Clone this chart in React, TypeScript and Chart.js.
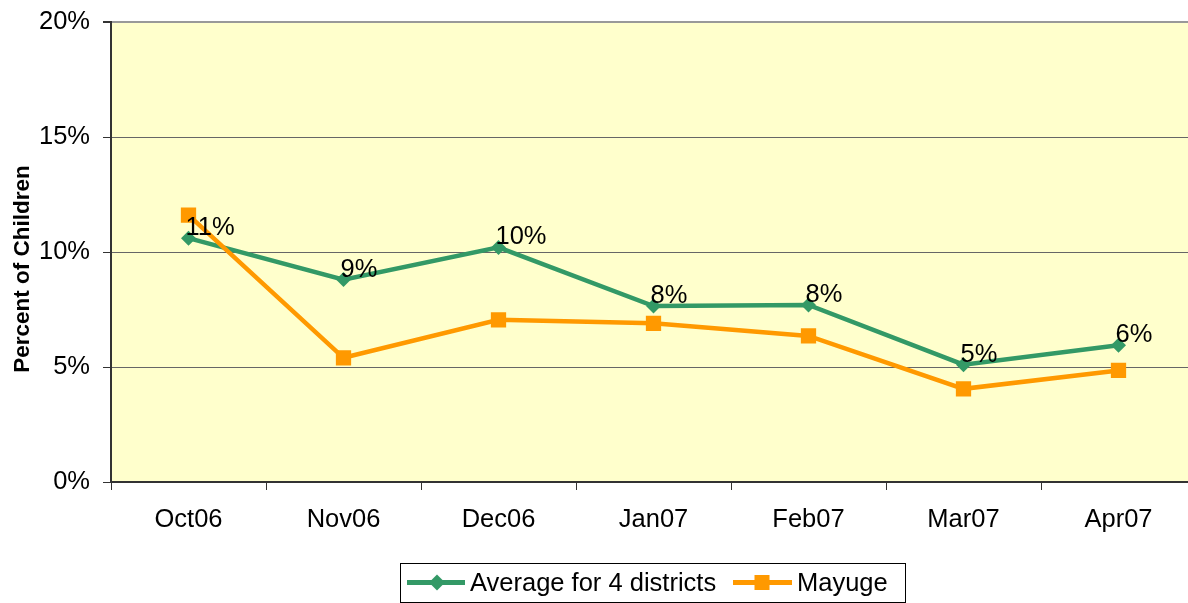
import React, { useEffect, useRef } from 'react';
import { Chart, registerables } from 'chart.js';

Chart.register(...registerables);

const categories = ['Oct06', 'Nov06', 'Dec06', 'Jan07', 'Feb07', 'Mar07', 'Apr07'];
const averageValues = [10.6, 8.8, 10.2, 7.65, 7.7, 5.1, 5.95];
const mayugeValues = [11.6, 5.4, 7.05, 6.9, 6.35, 4.05, 4.85];
const seriesNames = ['Average for 4 districts', 'Mayuge'];
const yAxisTitle = 'Percent of Children';

const GREEN = '#339966';
const ORANGE = '#FF9900';
const FONT = '"Liberation Sans", Arial, sans-serif';

const bgPlugin = {
  id: 'plotBg',
  beforeDraw(chart: any) {
    const { ctx, chartArea } = chart;
    ctx.save();
    ctx.fillStyle = '#FFFFCC';
    ctx.fillRect(chartArea.left, chartArea.top, chartArea.right - chartArea.left, chartArea.bottom - chartArea.top);
    ctx.restore();
  },
};

const labelPlugin = {
  id: 'pointLabels',
  afterDatasetsDraw(chart: any) {
    const { ctx } = chart;
    const meta = chart.getDatasetMeta(0);
    ctx.save();
    ctx.font = `25.5px ${FONT}`;
    ctx.fillStyle = '#000';
    ctx.textAlign = 'left';
    ctx.textBaseline = 'alphabetic';
    meta.data.forEach((pt: any, i: number) => {
      const v = averageValues[i];
      ctx.fillText(Math.round(v) + '%', pt.x - 3, pt.y - 3);
    });
    ctx.restore();
  },
};

const extrasPlugin = {
  id: 'extras',
  afterDraw(chart: any) {
    const { ctx } = chart;
    ctx.save();
    ctx.translate(23, 269);
    ctx.rotate(-Math.PI / 2);
    ctx.font = `bold 22.5px ${FONT}`;
    ctx.fillStyle = '#000';
    ctx.textAlign = 'center';
    ctx.textBaseline = 'middle';
    ctx.fillText(yAxisTitle, 0, 0);
    ctx.restore();

    ctx.save();
    ctx.strokeStyle = '#000';
    ctx.lineWidth = 1;
    ctx.strokeRect(400.5, 563.5, 505, 39);
    const ly = 582.5;
    ctx.strokeStyle = GREEN;
    ctx.lineWidth = 5;
    ctx.beginPath();
    ctx.moveTo(407, ly);
    ctx.lineTo(465, ly);
    ctx.stroke();
    ctx.fillStyle = GREEN;
    ctx.beginPath();
    ctx.moveTo(437 - 8, ly);
    ctx.lineTo(437, ly - 8);
    ctx.lineTo(437 + 8, ly);
    ctx.lineTo(437, ly + 8);
    ctx.closePath();
    ctx.fill();
    ctx.strokeStyle = ORANGE;
    ctx.beginPath();
    ctx.moveTo(733, ly);
    ctx.lineTo(792, ly);
    ctx.stroke();
    ctx.fillStyle = ORANGE;
    ctx.fillRect(762 - 7.5, ly - 7.5, 15, 15);
    ctx.fillStyle = '#000';
    ctx.font = `25.5px ${FONT}`;
    ctx.textAlign = 'left';
    ctx.textBaseline = 'middle';
    ctx.fillText(seriesNames[0], 470, ly + 1);
    ctx.fillText(seriesNames[1], 797, ly + 1);
    ctx.restore();
  },
};

export default function App() {
  const canvasRef = useRef<HTMLCanvasElement | null>(null);

  useEffect(() => {
    if (!canvasRef.current) return;
    const chart = new Chart(canvasRef.current, {
      type: 'line',
      data: {
        labels: categories,
        datasets: [
          {
            label: seriesNames[0],
            data: averageValues,
            borderColor: GREEN,
            backgroundColor: GREEN,
            borderWidth: 4.5,
            pointStyle: 'rectRot',
            pointRadius: 7.5,
            pointBorderWidth: 0,
            pointBackgroundColor: GREEN,
            tension: 0,
            order: 1,
          },
          {
            label: seriesNames[1],
            data: mayugeValues,
            borderColor: ORANGE,
            backgroundColor: ORANGE,
            borderWidth: 4.5,
            pointStyle: 'rect',
            pointRadius: 10.8,
            pointBorderWidth: 0,
            pointBackgroundColor: ORANGE,
            tension: 0,
            order: 0,
          },
        ],
      },
      options: {
        responsive: false,
        animation: false,
        layout: { autoPadding: false, padding: { top: 22, right: 0, bottom: 0, left: 0 } },
        plugins: {
          legend: { display: false },
          tooltip: { enabled: false },
          title: { display: false },
        },
        scales: {
          x: {
            type: 'category',
            offset: true,
            grid: {
              offset: true,
              drawOnChartArea: false,
              drawTicks: true,
              tickLength: 8,
              tickColor: '#333',
              lineWidth: 1,
            },
            border: { color: '#333', width: 2 },
            ticks: {
              color: '#000',
              font: { family: FONT, size: 25.5 },
              padding: 15,
              autoSkip: false,
              maxRotation: 0,
            },
            afterFit(scale: any) {
              scale.height = 121;
              scale.paddingLeft = 0;
              scale.paddingRight = 0;
              scale.paddingTop = 0;
              scale.paddingBottom = 0;
            },
          },
          y: {
            min: 0,
            max: 20,
            ticks: {
              stepSize: 5,
              color: '#000',
              font: { family: FONT, size: 25.5 },
              padding: 13,
              callback: (v: any) => v + '%',
            },
            grid: {
              color: (c: any) => (c.tick && c.tick.value === 20 ? '#999' : '#666'),
              lineWidth: (c: any) => (c.tick && c.tick.value === 20 ? 2 : 1),
              tickLength: 8,
              tickColor: '#333',
            },
            border: { color: '#333', width: 2 },
            afterFit(scale: any) {
              scale.width = 111;
              scale.paddingLeft = 0;
              scale.paddingRight = 0;
              scale.paddingTop = 0;
              scale.paddingBottom = 0;
            },
          },
        },
      },
      plugins: [bgPlugin, labelPlugin, extrasPlugin],
    });
    return () => chart.destroy();
  }, []);

  return (
    <div style={{ position: 'fixed', left: 0, top: 0, width: 1188, height: 603, background: '#fff', overflow: 'hidden' }}>
      <canvas ref={canvasRef} width={1196} height={603} style={{ display: 'block' }} />
    </div>
  );
}
